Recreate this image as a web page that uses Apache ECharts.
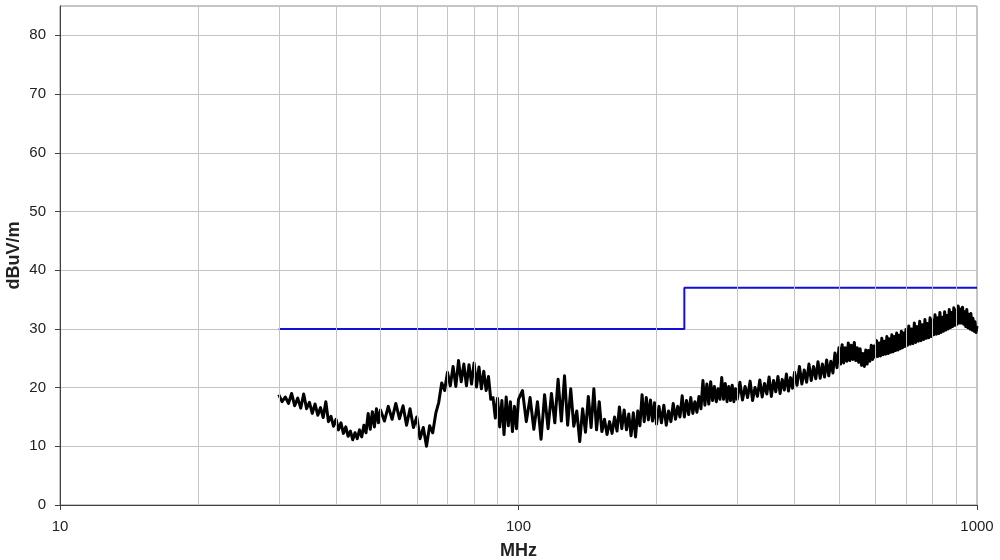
<!DOCTYPE html>
<html>
<head>
<meta charset="utf-8">
<script src="https://cdn.jsdelivr.net/npm/echarts@6/dist/echarts.min.js"></script>
<style>html,body{margin:0;padding:0;background:#fff}#c{width:1000px;height:560px}</style>
</head>
<body>
<div id="c"></div>
<script>
// Axis tick labels / settings
const yTicks = [0, 10, 20, 30, 40, 50, 60, 70, 80];
const xMajor = [10, 100, 1000];
const minorGridFreqs = [20, 30, 40, 50, 60, 70, 80, 90, 200, 300, 400, 500, 600, 700, 800, 900];

// Limit line (MHz, dBuV/m)
const limitFreq = [30, 230, 230, 1000];
const limitLevel = [30, 30, 37, 37];

// Measured emission (MHz)
const measFreq = [
  30,30.5,31,31.5,32,32.5,33,33.5,34,34.5,35,35.5,36,36.5,37,37.5,38,38.5,39,39.5,40,
  40.5,41,41.5,42,42.5,43,43.5,44,44.5,45,45.5,46,46.5,47,47.5,48,48.5,49,49.5,50,
  51,52,53,54,55,56,57,58,59,60,61,62,63,64,65,66,67,68,69,70,71,72,73,74,75,76,77,78,79,80,
  81,82,83,84,85,86,87,88,89,90,91,92,93,94,95,96,97,98,99,100,
  102,104,106,108,110,112,114,116,118,120,122,124,126,128,130,132,134,136,138,140,
  142,144,146,148,150,152,154,156,158,160,162,164,166,168,170,172,174,176,178,180,
  182,184,186,188,190,192,194,196,198,200,
  202.5,205,207.5,210,212.5,215,217.5,220,222.5,225,227.5,230,232.5,235,237.5,240,242.5,245,247.5,250,
  252.5,255,257.5,260,262.5,265,267.5,270,272.5,275,277.5,280,282.5,285,287.5,290,292.5,295,297.5,300,
  304,308,312,316,320,324,328,332,336,340,344,348,352,356,360,364,368,372,376,380,384,388,392,396,400,
  405,410,415,420,425,430,435,440,445,450,455,460,465,470,475,480,485,490,495,500,
  504,508,512,516,520,524,528,532,536,540,544,548,552,556,560,564,568,572,576,580,
  584,588,592,596,600,604,608,612,616,620,624,628,632,636,640,644,648,652,656,660,
  664,668,672,676,680,684,688,692,696,700,
  705,710,715,720,725,730,735,740,745,750,755,760,765,770,775,780,785,790,795,800,
  805,810,815,820,825,830,835,840,845,850,855,860,865,870,875,880,885,890,895,900,
  905,910,915,920,925,930,935,940,945,950,955,960,965,970,975,980,985,990,995,1000
];
// Measured emission (dBuV/m)
const measLevel = [
  18.8,17.6,18.4,17.3,19.0,16.9,18.2,16.5,18.9,16.4,17.5,15.6,17.2,15.3,16.6,14.9,17.6,14.2,15.1,13.4,14.6,
  12.8,14.0,12.2,13.3,11.7,12.6,11.1,12.3,11.3,12.8,11.6,13.6,12.3,15.6,12.9,15.9,13.3,16.4,14.0,16.2,
  14.3,16.8,14.6,17.3,14.7,16.9,13.6,16.4,13.2,15.0,11.3,13.2,10.0,13.5,12.3,15.6,17.5,20.8,19.5,22.6,20.3,23.6,20.2,24.6,21.0,24.0,20.3,23.9,20.6,24.2,
  20.1,23.5,19.8,22.8,19.5,21.9,18.0,18.3,14.8,18.2,13.3,17.8,12.0,18.4,13.5,17.6,12.5,16.8,13.0,18.0,
  19.5,14.2,18.3,12.9,17.6,11.2,18.8,13.0,19.0,14.0,21.4,14.3,22.0,13.6,19.8,13.4,16.0,10.8,16.4,12.4,
  18.5,13.2,19.8,12.8,17.6,12.5,14.6,12.0,14.2,12.2,15.0,12.6,16.7,13.0,16.2,12.8,15.5,11.8,15.7,11.6,
  16.0,13.5,18.8,14.2,18.3,14.5,17.9,14.3,17.4,13.8,
  16.8,14.0,17.0,13.6,16.0,14.2,17.3,14.6,16.8,15.0,18.6,15.0,17.8,15.4,18.3,15.6,17.6,15.8,18.5,16.4,
  21.2,17.0,20.6,17.2,21.0,17.8,20.2,17.6,19.8,18.0,21.7,18.0,20.7,17.6,20.2,17.8,20.4,17.6,19.8,18.0,
  20.9,17.9,20.2,18.3,21.1,17.8,20.0,18.5,21.3,18.4,20.7,18.9,21.8,18.5,21.2,19.3,21.9,19.0,21.4,19.6,22.3,19.4,21.7,19.9,22.6,
  20.4,23.6,20.6,23.0,20.9,24.0,21.2,23.6,21.5,24.4,21.6,24.0,21.8,24.7,22.0,24.5,22.5,25.9,23.4,26.8,
  24.0,27.3,24.2,26.8,24.5,27.6,24.6,27.2,24.8,27.7,24.6,26.8,24.3,26.6,23.8,25.8,23.6,26.4,24.0,26.3,
  24.5,27.2,24.8,27.1,25.2,28.0,25.3,27.6,25.4,28.4,25.6,27.9,25.7,28.7,25.8,28.3,26.0,29.0,26.1,28.7,
  26.3,29.3,26.4,28.9,26.6,29.6,26.8,29.3,27.0,29.9,
  27.2,30.5,27.4,30.0,27.5,31.0,27.7,30.4,27.9,31.3,28.0,30.7,28.2,31.6,28.4,30.9,28.5,31.9,28.7,31.5,
  29.0,32.4,29.1,31.9,29.2,32.8,29.4,32.0,29.6,32.9,29.8,32.3,30.0,33.3,30.2,32.8,30.4,33.6,30.6,33.2,
  30.8,33.9,31.0,33.4,31.0,33.7,30.8,32.9,30.4,33.3,30.2,32.5,30.0,32.6,29.8,31.8,29.6,31.2,29.4,30.5
];

const measData = measFreq.map((f, i) => [f, measLevel[i]]);
const limitData = limitFreq.map((f, i) => [f, limitLevel[i]]);

const chart = echarts.init(document.getElementById('c'), null, { renderer: 'canvas' });
const font = '"Liberation Sans", Arial, sans-serif';
chart.setOption({
  animation: false,
  backgroundColor: '#ffffff',
  grid: { left: 60, right: 23, top: 6, bottom: 55, containLabel: false, outerBoundsMode: 'none',
    show: true, borderColor: '#8c8c8c', borderWidth: 1, backgroundColor: 'transparent' },
  xAxis: {
    type: 'log', logBase: 10, min: 10, max: 1000,
    name: 'MHz', nameLocation: 'middle', nameGap: 37,
    nameTextStyle: { fontFamily: font, fontSize: 18, fontWeight: 'bold', color: '#222' },
    axisLine: { show: true, lineStyle: { color: '#404040', width: 1 } },
    axisTick: { show: true, length: 5, lineStyle: { color: '#404040' } },
    axisLabel: { fontFamily: font, fontSize: 15, color: '#222', margin: 14, formatter: v => String(Math.round(v)) },
    splitLine: { show: true, lineStyle: { color: '#c4c4c4', width: 1 } },
    minorTick: { show: false }, minorSplitLine: { show: false }
  },
  yAxis: {
    type: 'value', min: 0, max: 85, interval: 10,
    name: 'dBuV/m', nameLocation: 'middle', nameGap: 37, nameMoveOverlap: false,
    nameTextStyle: { fontFamily: font, fontSize: 18, fontWeight: 'bold', color: '#222' },
    axisLine: { show: true, lineStyle: { color: '#404040', width: 1 } },
    axisTick: { show: true, length: 5, lineStyle: { color: '#404040' } },
    axisLabel: { fontFamily: font, fontSize: 15, color: '#222', margin: 14, showMaxLabel: false,
      formatter: v => (yTicks.indexOf(v) >= 0 ? String(v) : '') },
    splitLine: { show: true, lineStyle: { color: '#c4c4c4', width: 1 } }
  },
  series: [
    {
      type: 'line', data: [], silent: true, z: 1,
      markLine: {
        silent: true, symbol: 'none', animation: false,
        label: { show: false },
        lineStyle: { color: '#c4c4c4', width: 1, type: 'solid' },
        emphasis: { disabled: true },
        data: minorGridFreqs.map(f => ({ xAxis: f }))
      }
    },
    {
      type: 'line', data: limitData, showSymbol: false, symbol: 'none', z: 3,
      lineStyle: { color: '#1010d8', width: 2 }
    },
    {
      type: 'line', data: measData, showSymbol: false, symbol: 'none', z: 4,
      lineStyle: { color: '#000000', width: 3, join: 'round' }
    }
  ]
});
</script>
</body>
</html>
